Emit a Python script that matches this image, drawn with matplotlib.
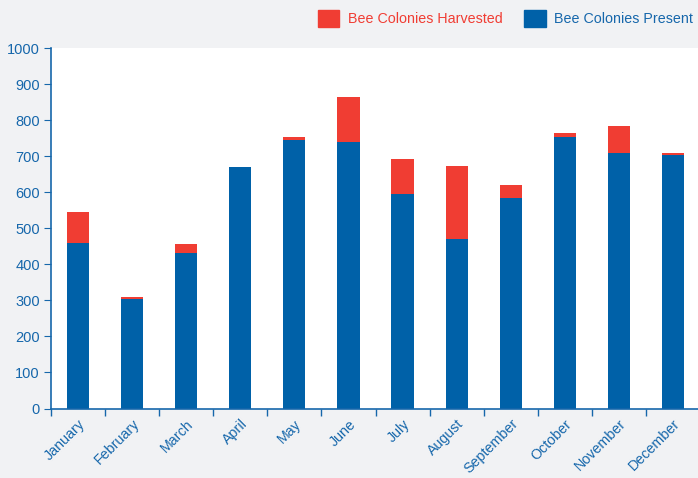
import numpy as np
import matplotlib
matplotlib.use('Agg')
import matplotlib.pyplot as plt
from matplotlib.patches import Patch

plt.rcParams['font.family'] = ['Liberation Sans', 'DejaVu Sans']

months = ['January', 'February', 'March', 'April', 'May', 'June',
          'July', 'August', 'September', 'October', 'November', 'December']
present = [458, 304, 432, 671, 746, 738, 596, 471, 585, 752, 710, 704]
harvested = [86, 6, 25, 0, 6, 125, 95, 203, 34, 11, 75, 4]

blue = '#0061a8'
red = '#f03d33'
text_blue = '#1667ab'
bg = '#f1f2f4'

fig = plt.figure(figsize=(6.98, 4.78), dpi=100, facecolor=bg)
ax = fig.add_axes([51 / 698, 69.5 / 478, 649 / 698, 360.5 / 478])
ax.set_facecolor('white')

x = np.arange(len(months))
ax.bar(x, present, width=0.41, color=blue, zorder=2)
ax.bar(x, harvested, width=0.41, bottom=present, color=red, zorder=2)

ax.set_xlim(-0.5, len(months) - 0.5)
ax.set_ylim(0, 1000)
ax.set_yticks(np.arange(0, 1001, 100))

# ticks at category boundaries, labels at centers
ax.set_xticks(np.arange(-0.5, len(months) - 0.5 + 0.01, 1))
ax.set_xticklabels([])
ax.set_xticks(x, minor=True)
ax.set_xticklabels(months, minor=True, rotation=45, ha='right',
                   rotation_mode='anchor', color=text_blue, fontsize=10.3)
ax.tick_params(axis='x', which='minor', length=0, pad=6)
ax.tick_params(axis='x', which='major', length=5, color=text_blue, width=1)
ax.tick_params(axis='y', length=5, color=text_blue, labelcolor=text_blue,
               labelsize=10.5, pad=3)

for s in ['top', 'right']:
    ax.spines[s].set_visible(False)
for s in ['left', 'bottom']:
    ax.spines[s].set_color(text_blue)
    ax.spines[s].set_linewidth(1.2)

handles = [Patch(color=red, label='Bee Colonies Harvested'),
           Patch(color=blue, label='Bee Colonies Present')]
leg = fig.legend(handles=handles, loc='upper right', ncol=2, frameon=False,
                 bbox_to_anchor=(1.0, 0.99), fontsize=10.3,
                 handlelength=1.5, handleheight=1.5, handletextpad=0.6,
                 columnspacing=1.5, borderaxespad=0.0, borderpad=0.35)
for t, c in zip(leg.get_texts(), [red, text_blue]):
    t.set_color(c)

fig.savefig('out.png', dpi=100, facecolor=bg)
